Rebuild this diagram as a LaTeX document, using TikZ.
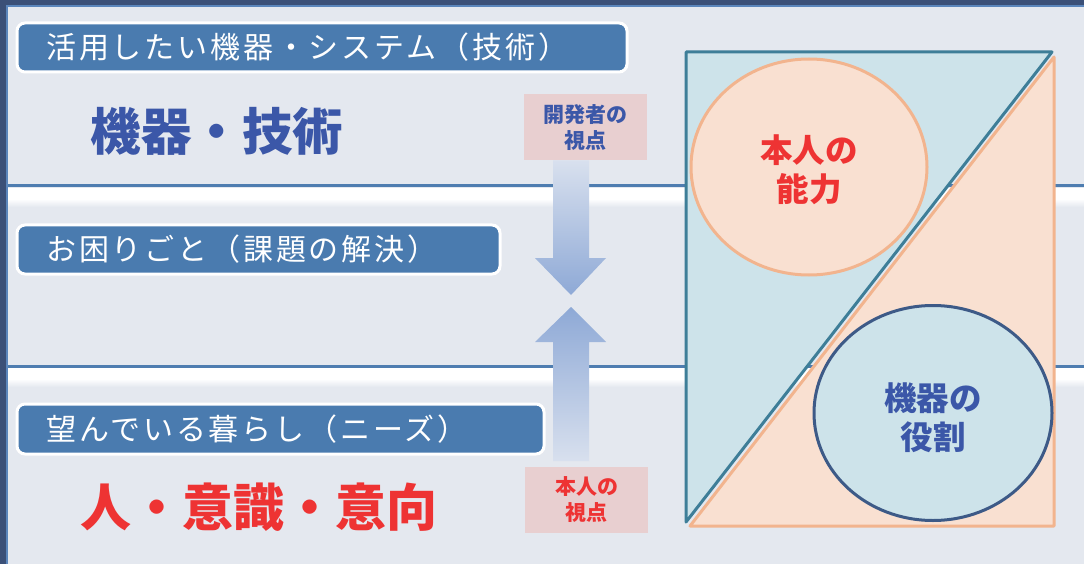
\documentclass[tikz,border=0pt]{standalone}
\usepackage{fontspec}
\newfontfamily\cjk{Noto Sans CJK JP}
\newfontfamily\cjkwide[LetterSpace=9.5]{Noto Sans CJK JP}
\usetikzlibrary{shapes.geometric}
\definecolor{bgc}{HTML}{E4E8EF}
\definecolor{navy}{HTML}{3B5078}
\definecolor{edgeblue}{HTML}{5B86BC}
\definecolor{hdr}{HTML}{4A7BAF}
\definecolor{blutxt}{HTML}{3B57A8}
\definecolor{redtxt}{HTML}{EE3333}
\definecolor{pinklab}{HTML}{E8CFD0}
\definecolor{trib}{HTML}{CDE3EA}
\definecolor{tribs}{HTML}{3E7E98}
\definecolor{trio}{HTML}{F9E0D1}
\definecolor{trios}{HTML}{F2B48E}
\definecolor{ell2s}{HTML}{3D5A87}
\definecolor{arrlight}{HTML}{D8E0EE}
\definecolor{arrdark}{HTML}{8EA9D6}
\definecolor{sepline}{HTML}{4E7DB0}
\tikzset{
  hdrbox/.style={draw=white, line width=3pt, fill=hdr, rounded corners=8pt},
  hdrtext/.style={anchor=west, text=white, inner sep=0pt, font=\cjkwide\fontsize{30}{34}\selectfont},
  bigtext/.style={inner sep=0pt, font=\cjk\bfseries\fontsize{51}{58}\selectfont},
  labbox/.style={fill=pinklab, minimum width=123pt, minimum height=66pt, align=center, inner sep=0pt, font=\cjk\bfseries\fontsize{21}{26}\selectfont},
  elltext/.style={align=center, font=\cjk\bfseries\fontsize{32.5}{39}\selectfont},
}
\begin{document}
\begin{tikzpicture}[x=1pt,y=-1pt]
\useasboundingbox (0,0) rectangle (1084,564);
% background
\fill[bgc] (0,0) rectangle (1084,564);
\fill[navy] (0,0) rectangle (1084,5);
\fill[edgeblue] (0,5) rectangle (1084,7);
\fill[navy] (0,0) rectangle (6,564);
\fill[edgeblue] (6,7) rectangle (8,564);
% separators
\foreach \yy in {186,366}{
  \fill[white] (8,\yy+2) rectangle (1084,\yy+13);
  \shade[top color=white, bottom color=bgc] (8,\yy+12.9) rectangle (1084,\yy+21);
  \fill[sepline] (8,\yy-1.5) rectangle (1084,\yy+1.5);
}
% header boxes
\draw[hdrbox] (17,23) rectangle (627,72);
\node[hdrtext] (h1) at (46,47.5) {活用したい機器・システム（技術）};
\draw[hdrbox] (17,225) rectangle (500,274);
\node[hdrtext] (h2) at (46,249.5) {お困りごと（課題の解決）};
\draw[hdrbox] (17,404) rectangle (544,454);
\node[hdrtext] (h3) at (46,429) {望んでいる暮らし（ニーズ）};
% big texts
\node[bigtext, text=blutxt, font=\cjk\bfseries\fontsize{50.5}{58}\selectfont] (tech) at (217,131) {機器・技術};
\node[bigtext, text=redtxt] (person) at (259,507) {人・意識・意向};
% label boxes
\node[labbox, text=blutxt] (dev) at (585.5,127.5) {開発者の\\視点};
\node[labbox, text=redtxt] (self) at (586.5,500) {本人の\\視点};
% arrows
\shade[top color=arrlight, bottom color=arrdark]
  (553,160.5) -- (589,160.5) -- (589,258) -- (606,258) -- (571,295) -- (535,258) -- (553,258) -- cycle;
\shade[top color=arrdark, bottom color=arrlight]
  (571,307) -- (606,342) -- (589,342) -- (589,461) -- (553,461) -- (553,342) -- (535,342) -- cycle;
% right diagram
\filldraw[fill=trib, draw=tribs, line width=3pt, line join=round] (686,52) -- (1052,52) -- (686,522) -- cycle;
\filldraw[fill=trio, draw=trios, line width=3pt, line join=round] (1054,57) -- (1054,526) -- (690,526) -- cycle;
\node[ellipse, fill=trio, draw=trios, line width=3pt, minimum width=236pt, minimum height=216pt, inner sep=0pt] (abil) at (809,167) {};
\node[elltext, text=redtxt] (abilt) at (809,170) {本人の\\能力};
\node[ellipse, fill=trib, draw=ell2s, line width=3pt, minimum width=238pt, minimum height=215pt, inner sep=0pt] (role) at (933,413) {};
\node[elltext, text=blutxt] (rolet) at (933,418) {機器の\\役割};
\end{tikzpicture}
\end{document}
